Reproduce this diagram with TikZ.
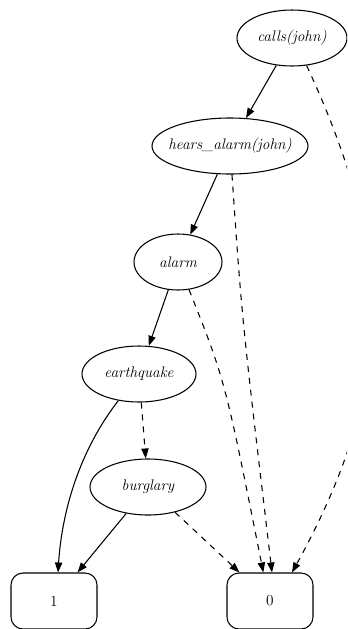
\documentclass[tikz,border=0pt]{standalone}
\usetikzlibrary{shapes.geometric}
\usetikzlibrary{arrows.meta}

\begin{document}
\begin{tikzpicture}[x=0.75pt,y=-0.75pt]
    \useasboundingbox (0,0) rectangle (347,629);
    \clip (0,0) rectangle (347,629);
    \begin{scope}[line width=0.8pt,font=\fontsize{11.5}{14}\selectfont\itshape,>={Triangle[length=7.5pt,width=5.5pt]},
        var/.style={draw,ellipse,inner sep=0pt,minimum height=42pt},
        leaf/.style={draw,rectangle,rounded corners=9pt,minimum width=64.5pt,minimum height=42pt,font=\fontsize{11.5}{14}\selectfont\upshape},
        high/.style={->},
        low/.style={->,dash pattern=on 4.5pt off 4.5pt}]
    % Decision nodes:
    \node [var,minimum width=82.5pt] (calls) at (292,38) {calls(john)};
    % the label is wider than the ellipse allows, so its box is narrowed
    \node [var,minimum width=117pt] (hears) at (230,146) {\makebox[80pt]{hears\_alarm(john)}};
    \node [var,minimum width=66pt] (alarm) at (178,262) {alarm};
    \node [var,minimum width=85.5pt] (quake) at (139,374) {earthquake};
    \node [var,minimum width=87pt] (burgl) at (148,487) {burglary};

    % Terminals:
    \node [leaf] (one) at (54,601) {1};
    \node [leaf] (zero) at (270,601) {0};

    % Solid edges (true branch):
    \draw [high] (calls) -- (hears);
    \draw [high] (hears) -- (alarm);
    \draw [high] (alarm) -- (quake);
    \draw [high] (quake) .. controls (80,450) and (62,510) .. ([xshift=3pt]one.north);
    \draw [high] (burgl) -- (one);

    % Dashed edges (false branch):
    % the one from calls(john) leaves the picture on the right
    \draw [low] (calls.-62) .. controls (392,250) and (398,380) .. ([xshift=16.5pt]zero.north);
    \draw [low] (hears) .. controls (242,320) .. ([xshift=1.5pt]zero.north);
    \draw [low] (alarm) .. controls (225,380) .. ([xshift=-5pt]zero.north);
    \draw [low] (quake) -- (burgl);
    \draw [low] (burgl) -- (zero);
    \end{scope}
\end{tikzpicture}
\end{document}
